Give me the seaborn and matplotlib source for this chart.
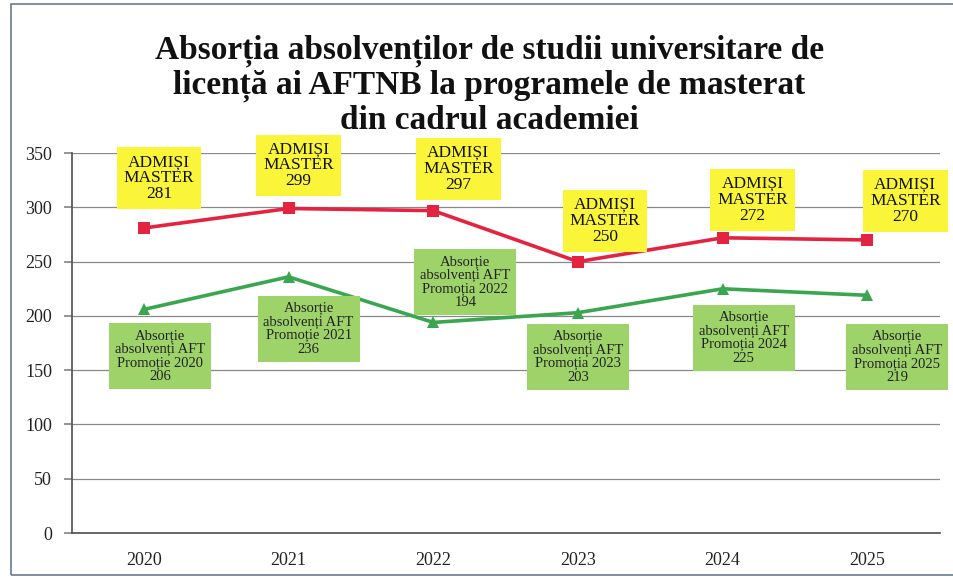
import matplotlib
matplotlib.use("Agg")
import matplotlib.pyplot as plt
import seaborn as sns
import pandas as pd
from matplotlib.patches import Rectangle

# date
ani = ["2020", "2021", "2022", "2023", "2024", "2025"]
admisi_master = [281, 299, 297, 250, 272, 270]
absortie_aft = [206, 236, 194, 203, 225, 219]
promotie_txt = ["Promoție", "Promoție", "Promoția", "Promoția", "Promoția", "Promoția"]

# pozitia etichetelor fata de punct (pixeli)
off_galben = [(15, 50), (10, 43), (25, 42), (27, 41), (30, 38), (38, 39)]
off_verde = [(16, -47), (20, -52), (32, 40), (0, -44), (21, -49), (30, -62)]

ROSU = "#e3233f"
VERDE = "#3aa64f"

sns.set_theme(style="white")
plt.rcParams["font.family"] = ["Liberation Serif", "DejaVu Serif"]

df = pd.DataFrame({
    "an": ani * 2,
    "valoare": admisi_master + absortie_aft,
    "serie": ["admisi"] * len(ani) + ["absortie"] * len(ani),
})

fig = plt.figure(figsize=(9.54, 5.8), dpi=100)
ax = fig.add_axes([0.075, 0.081, 0.91, 0.655])

sns.lineplot(data=df, x="an", y="valoare", hue="serie", style="serie",
             palette={"admisi": ROSU, "absortie": VERDE},
             markers={"admisi": "s", "absortie": "^"},
             dashes=False, linewidth=2.6, markersize=9,
             markeredgewidth=0, legend=False, ax=ax, sort=False)

ax.set_xlim(-0.5, 5.5)
ax.set_ylim(0, 350)
ax.set_yticks(range(0, 351, 50))
ax.set_xlabel("")
ax.set_ylabel("")
ax.yaxis.grid(True, color="#888888", linewidth=0.9)
ax.xaxis.grid(False)
for s in ["top", "right"]:
    ax.spines[s].set_visible(False)
ax.spines["left"].set_color("#555555")
ax.spines["bottom"].set_color("#555555")
ax.tick_params(axis="both", labelsize=13, colors="#222222", pad=8)
ax.tick_params(axis="y", left=True, length=6, color="#888888")

for i, v in enumerate(admisi_master):
    ax.annotate(f"ADMIȘI\nMASTER\n{v}", xy=(i, v), xytext=off_galben[i],
                textcoords="offset pixels", ha="center", va="center",
                fontsize=12.5, linespacing=1.0, color="#111111",
                bbox=dict(boxstyle="square,pad=0.4", fc="#fbf53a", ec="none"),
                annotation_clip=False)

for i, v in enumerate(absortie_aft):
    txt = f"Absorție\nabsolvenți AFT\n{promotie_txt[i]} {ani[i]}\n{v}"
    ax.annotate(txt, xy=(i, v), xytext=off_verde[i],
                textcoords="offset pixels", ha="center", va="center",
                fontsize=10.5, linespacing=1.05, color="#222222",
                bbox=dict(boxstyle="square,pad=0.4", fc="#9ed36a", ec="none"),
                annotation_clip=False)

fig.text(0.513, 0.94,
         "Absorția absolvenților de studii universitare de\n"
         "licență ai AFTNB la programele de masterat\n"
         "din cadrul academiei",
         ha="center", va="top", fontsize=24, fontweight="bold",
         linespacing=1.1, color="#111111")

# chenarul scanat
fig.patches.append(Rectangle((0.012, 0.008), 0.99, 0.985, transform=fig.transFigure,
                             fill=False, ec="#6a7a90", lw=1.2))

fig.savefig("out.png", dpi=100)
